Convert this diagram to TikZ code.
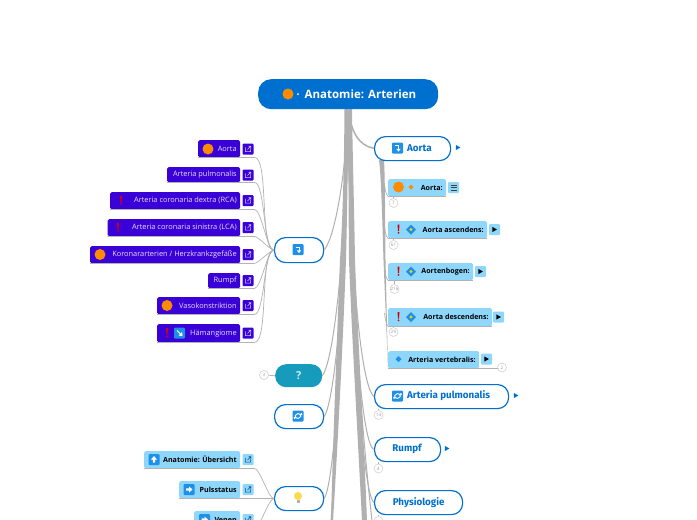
\documentclass[tikz,border=0pt]{standalone}
\usepackage{fontspec}
\setmainfont{Open Sans}
\newfontfamily\mainf{Fira Sans}
\usetikzlibrary{calc}
\definecolor{rootblue}{HTML}{0070D0}
\definecolor{violetb}{HTML}{3A00D8}
\definecolor{lightb}{HTML}{8FD6FB}
\definecolor{teal1}{HTML}{169BBD}
\definecolor{trunk}{HTML}{B0B0B0}
\definecolor{orangec}{HTML}{FF8C00}
\definecolor{iconb}{HTML}{1E90E8}
\tikzset{
 mainbox/.style={draw=rootblue,line width=1.2pt,fill=white,rounded corners=11pt,inner sep=0pt,text=rootblue,font=\mainf\fontsize{9.8}{12}\selectfont\bfseries},
 maintext/.style={text=rootblue,font=\mainf\fontsize{9.8}{12}\selectfont\bfseries,inner sep=0pt},
 vio/.style={fill=violetb,rounded corners=1.5pt,inner sep=0pt,text=white!88!violetb,font=\fontsize{7.4}{8}\selectfont},
 lig/.style={fill=lightb,rounded corners=1.5pt,inner sep=0pt,text=black,font=\fontsize{7.1}{8}\selectfont\bfseries},
 badge/.style={circle,draw=black!18,fill=white,line width=.6pt,minimum size=9pt,inner sep=0pt,text=black!40,font=\fontsize{4.5}{5}\selectfont},
 trunkline/.style={draw=trunk,line width=1pt},
 conn/.style={draw=black!30,line width=.7pt},
 glyph/.style={draw=white,line width=1pt},
}
\newcommand{\lab}[7]{\node[#1,anchor=north west,minimum width={(#5-#3)*1pt},minimum height={(#6-#4)*1pt}] (#2) at (#3,#4) {};
 \node[#1,fill=none,draw=none,anchor=east] (#2t) at ($(#2.east)+(-3.5,0)$) {#7};}
\newcommand{\lnkbox}[4]{\node[fill=#4,rounded corners=1pt,minimum size=11pt,inner sep=0pt] (#1) at (#2,#3) {};}
\newcommand{\lnkicon}[3]{\draw[#3,line width=.6pt] (#1-2.6,#2-1.6) -- (#1-2.6,#2+2.6) -- (#1+2.6,#2+2.6) -- (#1+2.6,#2-.5) (#1-.5,#2+.5) -- (#1+2.8,#2-2.8) (#1+.6,#2-2.8) -- (#1+2.8,#2-2.8) -- (#1+2.8,#2-.6);}
\newcommand{\orb}[3]{\fill[orangec] (#1,#2) circle (#3);}
\newcommand{\excl}[2]{\fill[red!85!black] (#1-1,#2-5) -- (#1+1,#2-5) -- (#1+.5,#2+1.5) -- (#1-.5,#2+1.5) -- cycle; \fill[red!85!black] (#1,#2+3.4) circle (1);}
\newcommand{\sqi}[3]{\fill[iconb,rounded corners=1pt] (#1-#3,#2-#3) rectangle (#1+#3,#2+#3);}
\newcommand{\gbend}[2]{\draw[glyph] (#1-2.5,#2-2.5) -- (#1+1,#2-2.5) -- (#1+1,#2+1); \fill[white] (#1-1.2,#2+.8) -- (#1+3.2,#2+.8) -- (#1+1,#2+3.6) -- cycle;}
\newcommand{\grefr}[2]{\draw[glyph,line width=.9pt] (#1-3,#2-.5) arc (180:20:3) (#1+3,#2+.5) arc (0:-160:3); \fill[white] (#1+1.2,#2-1) -- (#1+4.4,#2-1) -- (#1+3.6,#2-3.2) -- cycle; \fill[white] (#1-1.2,#2+1) -- (#1-4.4,#2+1) -- (#1-3.6,#2+3.2) -- cycle;}
\newcommand{\gup}[2]{\fill[white] (#1,#2-3.5) -- (#1+3,#2) -- (#1+1.1,#2) -- (#1+1.1,#2+3) -- (#1-1.1,#2+3) -- (#1-1.1,#2) -- (#1-3,#2) -- cycle;}
\newcommand{\gright}[2]{\fill[white] (#1+3.5,#2) -- (#1,#2+3) -- (#1,#2+1.1) -- (#1-3,#2+1.1) -- (#1-3,#2-1.1) -- (#1,#2-1.1) -- (#1,#2-3) -- cycle;}
\newcommand{\gse}[2]{\draw[glyph] (#1-2.5,#2-2.5) -- (#1+1,#2+1); \fill[white] (#1+3,#2+3) -- (#1+2.6,#2-1) -- (#1-1,#2+2.6) -- cycle;}
\newcommand{\dia}[2]{\fill[iconb] (#1-5,#2) -- (#1,#2-5) -- (#1+5,#2) -- (#1,#2+5) -- cycle; \fill[yellow!70!orange] (#1,#2) circle (1.6);}
\newcommand{\plaay}[3]{\fill[#3] (#1-2.2,#2-2.6) -- (#1+2.4,#2) -- (#1-2.2,#2+2.6) -- cycle;}
\newcommand{\feed}[2]{\draw[conn] (#1.south west) -- (#1.south east) -- ++(14,0) to[out=0,in=180,looseness=.4] (#2.west);}
\newcommand{\underl}[1]{\draw[conn] (#1.south west) -- (#1.south east);}
\begin{document}
\begin{tikzpicture}[x=1pt,y=-1pt]
\useasboundingbox (0,0) rectangle (697,520);
\fill[white] (0,0) rectangle (697,520);
% coordinates
\coordinate (hub) at (348,110);
\coordinate (offa) at (331,521);
\coordinate (offb) at (333,521);
\coordinate (offc) at (362,521);
\coordinate (offd) at (372,521);
\coordinate (aortaend) at (388,368);
% main nodes
\node[fill=teal1,rounded corners=11pt,minimum width=47pt,minimum height=23pt,inner sep=0pt,anchor=north west,text=white!80!teal1,font=\fontsize{11}{12}\selectfont\bfseries] (qn) at (275,364) {?};
\node[mainbox,minimum width=49pt,minimum height=25pt,anchor=north west] (left1) at (274,237) {};
\node[mainbox,minimum width=49pt,minimum height=24pt,anchor=north west] (refr) at (274,404) {};
\node[mainbox,minimum width=49pt,minimum height=24pt,anchor=north west] (bulb) at (274,486) {};
\node[mainbox,minimum width=134pt,minimum height=24pt,anchor=north west] (pulm) at (374,384) {};
\node[mainbox,minimum width=66pt,minimum height=24pt,anchor=north west] (rumpf) at (374,437) {};
\node[mainbox,minimum width=88pt,minimum height=24pt,anchor=north west] (phys) at (374,490) {Physiologie};
\path (374,136) node[minimum width=76pt,minimum height=24pt,inner sep=0pt,anchor=north west] (aorta) {};
% trunk connectors
\draw[trunkline] (hub) .. controls (346,170) and (336,235) .. (left1.east);
\draw[trunkline] (hub) .. controls (346,250) and (334,360) .. (qn.east);
\draw[trunkline] (hub) .. controls (346,280) and (335,400) .. (refr.east);
\draw[trunkline] (hub) .. controls (345,300) and (336,480) .. (bulb.east);
\draw[trunkline,line width=1.5pt] (hub) .. controls (351,130) and (358,146) .. (aorta.west);
\draw[trunkline] (hub) .. controls (350,260) and (360,385) .. (pulm.west);
\draw[trunkline] (hub) .. controls (350,290) and (361,445) .. (rumpf.west);
\draw[trunkline] (hub) .. controls (350,300) and (362,495) .. (phys.west);
\draw[trunkline] (hub) .. controls (345,300) and (337,440) .. (offa);
\draw[trunkline] (hub) .. controls (351,300) and (362,430) .. (offd);
\fill[trunk] (344.5,109) .. controls (344,180) and (342,230) .. (340,260) .. controls (337,340) and (333,440) .. (offa) -- (offb) .. controls (338,440) and (343,340) .. (346,260) .. controls (347.5,200) and (348,150) .. (348,109) -- cycle;
\fill[trunk] (348.5,109) .. controls (348.5,160) and (348.5,210) .. (349,260) .. controls (352,340) and (358,440) .. (offc) -- (367,521) .. controls (364,440) and (358,340) .. (355,260) .. controls (354,200) and (352.5,150) .. (352,109) -- cycle;
\fill[trunk] (379,160) -- (384,160) .. controls (385,175) and (385,210) .. (385.5,260) -- (aortaend) -- (383.5,260) .. controls (382,210) and (381,175) .. (379,160) -- cycle;
% root and aorta boxes over the trunk
\node[fill=rootblue,rounded corners=13pt,minimum width=180pt,minimum height=30pt,inner sep=0pt,anchor=north west] (root) at (258,79) {};
\node[mainbox,minimum width=76pt,minimum height=24pt,anchor=north west] (aortab) at (374,136) {};
% root content
\orb{288}{94}{5.5}
\fill[white] (298,94) circle (1);
\node[text=white,font=\fontsize{11.5}{13}\selectfont\bfseries,anchor=west,inner sep=0pt] (roott) at (304.5,94) {Anatomie: Arterien};
% main labels and icons
\sqi{298}{249.5}{5.5}\gbend{298}{249.5}
\sqi{298}{416}{5.5}\grefr{298}{416}
\fill[yellow!65!orange!70!white] (298,496) circle (4);
\fill[black!30] (296.5,500) rectangle (299.5,503);
\sqi{397.5}{148}{5.5}\gbend{397.5}{148}
\node[maintext,anchor=west] (aortat) at (407,148) {Aorta};
\sqi{397.5}{396}{5.5}\grefr{397.5}{396}
\node[maintext,anchor=west] (pulmt) at (407,396) {Arteria pulmonalis};
\node[maintext] (rumpft) at (407,449) {Rumpf};
\plaay{458}{147.5}{rootblue}
\plaay{516}{395.5}{rootblue}
\plaay{447}{448.5}{rootblue}
% violet items
\lab{vio}{v1}{198}{140}{240}{157}{Aorta}
\lab{vio}{v2}{167}{167}{240}{182}{Arteria pulmonalis}
\lab{vio}{v3}{110}{192}{240}{209}{Arteria coronaria dextra (RCA)}
\lab{vio}{v4}{107.5}{219}{240}{236}{Arteria coronaria sinistra (LCA)}
\lab{vio}{v5}{90}{246}{240}{263}{Koronararterien / Herzkrankzgefäße}
\lab{vio}{v6}{208}{273}{240}{288}{Rumpf}
\lab{vio}{v7}{157}{297}{240}{314}{Vasokonstriktion}
\lab{vio}{v8}{157}{324}{240}{342}{Hämangiome}
\foreach \n/\y in {v1/149,v2/175,v3/200.5,v4/227.5,v5/254.5,v6/280.5,v7/305.5,v8/333}{
 \lnkbox{\n k}{248}{\y}{violetb}
 \lnkicon{248}{\y}{white!80!violetb}
 \feed{\n}{left1}
}
\orb{208}{149}{5.5}
\excl{121}{200.5}
\excl{118}{227.5}
\orb{100}{254.5}{5.5}
\orb{167}{305.5}{5.5}
\excl{167}{333}
\sqi{179.5}{333}{5.5}\gse{179.5}{333}
% light left items
\lab{lig}{l1}{144}{451}{240}{468}{Anatomie: Übersicht}
\lab{lig}{l2}{179}{481}{240}{498}{Pulsstatus}
\lab{lig}{l3}{194}{511}{240}{528}{Venen}
\foreach \n/\y in {l1/459.5,l2/489.5,l3/519.5}{
 \lnkbox{\n k}{248}{\y}{lightb}
 \lnkicon{248}{\y}{rootblue!70!black}
 \feed{\n}{bulb}
}
\sqi{154}{459.5}{5.5}\gup{154}{459.5}
\sqi{189}{489.5}{5.5}\gright{189}{489.5}
\sqi{204.5}{519.5}{5.5}\gright{204.5}{519.5}
% right sub items
\lab{lig}{r1}{388}{179}{446}{196}{Aorta:}
\lab{lig}{r2}{388}{221}{487}{238}{Aorta ascendens:}
\lab{lig}{r3}{388}{263}{473}{280}{Aortenbogen:}
\lab{lig}{r4}{388}{308}{492}{326}{Aorta descendens:}
\lab{lig}{r5}{388}{351}{479}{368}{Arteria vertebralis:}
\foreach \n/\x/\y in {r1/453.5/187.5,r2/494.5/229.5,r3/480.5/271.5,r4/498.5/317,r5/486.5/359}{
 \lnkbox{\n k}{\x}{\y}{lightb}
}
\draw[black!75,line width=.7pt] (450.5,185) -- (456.5,185) (450.5,187.5) -- (456.5,187.5) (450.5,190) -- (456.5,190);
\plaay{494.5}{229.5}{black}
\plaay{480.5}{271.5}{black}
\plaay{498.5}{317}{black}
\plaay{486.5}{359}{black}
\orb{398.5}{187}{5.5}
\fill[orangec] (411,184.5) -- (413.5,187) -- (411,189.5) -- (408.5,187) -- cycle;
\excl{398.5}{229.5}\dia{411}{229.5}
\excl{398.5}{271.5}\dia{411}{271.5}
\excl{398.5}{317}\dia{411}{317}
\fill[iconb] (398.5,356) -- (401.5,359) -- (398.5,362) -- (395.5,359) -- cycle;
% branches off the aorta stem
\foreach \n in {r1,r2,r3,r4,r5}{\underl{\n}}
\foreach \n/\a/\b in {r1/184/188,r2/226/230,r3/268/272,r4/313/317}{
 \draw[conn] (384.5,\a) .. controls (385,\b) and (385.5,\b+6) .. (\n.south west);
}
\draw[conn] (aortaend) -- (r5.south west);
\draw[conn] (r5.south east) -- ++(19,0) coordinate (r5end);
% badges
\node[badge] (b1) at (393.5,203) {7};
\node[badge] (b2) at (393.5,245) {61};
\node[badge] (b3) at (394.5,289) {216};
\node[badge] (b4) at (393.5,332) {29};
\node[badge] (b5) at (502,367.5) {2};
\node[badge] (b6) at (378.5,415) {14};
\node[badge] (b7) at (378.5,468.5) {4};
\node[badge] (b8) at (378.5,521) {};
\node[badge] (b9) at (264,375) {3};
\draw[conn] (b5) -- (r5end);
\draw[conn] (b9) -- (qn.west);
\draw[conn] (b1.north) -- (b1.north |- r1.south);
\draw[conn] (b2.north) -- (b2.north |- r2.south);
\draw[conn] (b3.north) -- (b3.north |- r3.south);
\draw[conn] (b4.north) -- (b4.north |- r4.south);
\draw[conn] (b6.north) -- (b6.north |- pulm.south);
\draw[conn] (b7.north) -- (b7.north |- rumpf.south);
\draw[conn] (b8.north) -- (b8.north |- phys.south);
\end{tikzpicture}
\end{document}
